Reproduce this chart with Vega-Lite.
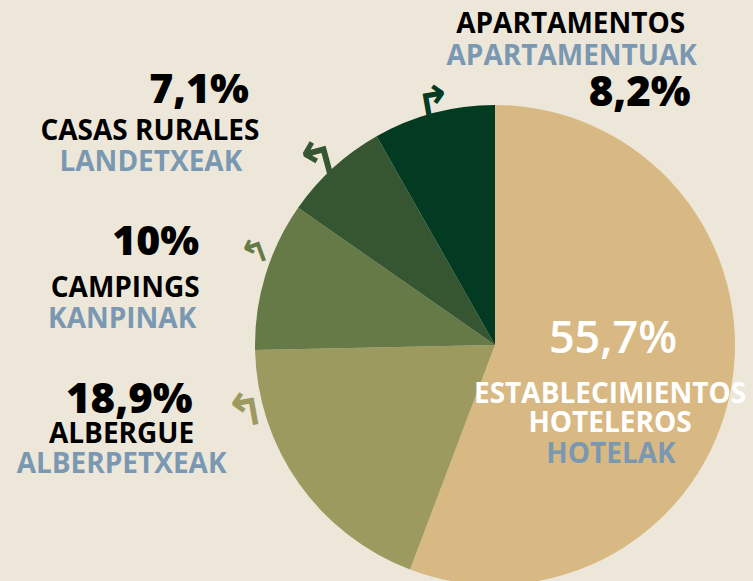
{
  "$schema": "https://vega.github.io/schema/vega-lite/v6.json",
  "width": 480,
  "height": 472,
  "autosize": {"type": "none"},
  "padding": {"left": 255, "top": 109, "right": 18, "bottom": 0},
  "background": "#EDE7D9",
  "config": {"view": {"stroke": null}, "text": {"font": "Open Sans"}},
  "data": {
    "values": [
      {"ord": 1, "cat": "hotel", "es": "ESTABLECIMIENTOS HOTELEROS", "eu": "HOTELAK", "value": 55.7, "pct": "55,7%"},
      {"ord": 2, "cat": "albergue", "es": "ALBERGUE", "eu": "ALBERPETXEAK", "value": 18.9, "pct": "18,9%"},
      {"ord": 3, "cat": "camping", "es": "CAMPINGS", "eu": "KANPINAK", "value": 10.0, "pct": "10%"},
      {"ord": 4, "cat": "casas", "es": "CASAS RURALES", "eu": "LANDETXEAK", "value": 7.1, "pct": "7,1%"},
      {"ord": 5, "cat": "apart", "es": "APARTAMENTOS", "eu": "APARTAMENTUAK", "value": 8.2, "pct": "8,2%"}
    ]
  },
  "encoding": {
    "theta": {"field": "value", "type": "quantitative", "stack": true},
    "order": {"field": "ord", "type": "quantitative"},
    "detail": {"field": "cat", "type": "nominal"}
  },
  "layer": [
    {
      "mark": {"type": "arc", "outerRadius": 240},
      "encoding": {
        "color": {
          "field": "cat", "type": "nominal", "legend": null,
          "scale": {"domain": ["hotel", "albergue", "camping", "casas", "apart"],
                    "range": ["#D9B983", "#9C9A5E", "#667A47", "#365632", "#033A22"]}
        }
      }
    },
    {"mark": {"type": "text", "radius": 120, "align": "center", "baseline": "alphabetic", "dx": 0, "dy": -14, "fontSize": 45, "fontWeight": 600, "color": "#FFFFFF"},
     "encoding": {"text": {"condition": {"test": "datum.cat === 'hotel'", "field": "pct"}, "value": ""}}},
    {"mark": {"type": "text", "radius": 120, "align": "center", "baseline": "alphabetic", "dx": -3, "dy": 36, "fontSize": 28, "fontWeight": "bold", "color": "#FFFFFF", "lineBreak": " ", "lineHeight": 29},
     "encoding": {"text": {"condition": {"test": "datum.cat === 'hotel'", "field": "es"}, "value": ""}}},
    {"mark": {"type": "text", "radius": 120, "align": "center", "baseline": "alphabetic", "dx": -2, "dy": 96, "fontSize": 28, "fontWeight": "bold", "color": "#7A98B2"},
     "encoding": {"text": {"condition": {"test": "datum.cat === 'hotel'", "field": "eu"}, "value": ""}}},

    {"mark": {"type": "text", "radius": 260, "align": "center", "baseline": "alphabetic", "dx": 142, "dy": -61, "fontSize": 28, "fontWeight": "bold", "color": "#000000"},
     "encoding": {"text": {"condition": {"test": "datum.cat === 'apart'", "field": "es"}, "value": ""}}},
    {"mark": {"type": "text", "radius": 260, "align": "center", "baseline": "alphabetic", "dx": 143, "dy": -29, "fontSize": 28, "fontWeight": "bold", "color": "#7A98B2"},
     "encoding": {"text": {"condition": {"test": "datum.cat === 'apart'", "field": "eu"}, "value": ""}}},
    {"mark": {"type": "text", "radius": 260, "align": "right", "baseline": "alphabetic", "dx": 262, "dy": 12, "fontSize": 42, "fontWeight": 800, "color": "#000000"},
     "encoding": {"text": {"condition": {"test": "datum.cat === 'apart'", "field": "pct"}, "value": ""}}},

    {"mark": {"type": "text", "radius": 260, "align": "right", "baseline": "alphabetic", "dx": -71, "dy": -50, "fontSize": 41, "fontWeight": 800, "color": "#000000"},
     "encoding": {"text": {"condition": {"test": "datum.cat === 'casas'", "field": "pct"}, "value": ""}}},
    {"mark": {"type": "text", "radius": 260, "align": "center", "baseline": "alphabetic", "dx": -170, "dy": -13, "fontSize": 28, "fontWeight": "bold", "color": "#000000"},
     "encoding": {"text": {"condition": {"test": "datum.cat === 'casas'", "field": "es"}, "value": ""}}},
    {"mark": {"type": "text", "radius": 260, "align": "center", "baseline": "alphabetic", "dx": -169, "dy": 18, "fontSize": 28, "fontWeight": "bold", "color": "#7A98B2"},
     "encoding": {"text": {"condition": {"test": "datum.cat === 'casas'", "field": "eu"}, "value": ""}}},

    {"mark": {"type": "text", "radius": 260, "align": "right", "baseline": "alphabetic", "dx": -47, "dy": -15, "fontSize": 41, "fontWeight": 800, "color": "#000000"},
     "encoding": {"text": {"condition": {"test": "datum.cat === 'camping'", "field": "pct"}, "value": ""}}},
    {"mark": {"type": "text", "radius": 260, "align": "center", "baseline": "alphabetic", "dx": -121, "dy": 27, "fontSize": 28, "fontWeight": "bold", "color": "#000000"},
     "encoding": {"text": {"condition": {"test": "datum.cat === 'camping'", "field": "es"}, "value": ""}}},
    {"mark": {"type": "text", "radius": 260, "align": "center", "baseline": "alphabetic", "dx": -124, "dy": 58, "fontSize": 28, "fontWeight": "bold", "color": "#7A98B2"},
     "encoding": {"text": {"condition": {"test": "datum.cat === 'camping'", "field": "eu"}, "value": ""}}},

    {"mark": {"type": "text", "radius": 260, "align": "right", "baseline": "alphabetic", "dx": -90, "dy": -82, "fontSize": 42, "fontWeight": 800, "color": "#000000"},
     "encoding": {"text": {"condition": {"test": "datum.cat === 'albergue'", "field": "pct"}, "value": ""}}},
    {"mark": {"type": "text", "radius": 260, "align": "center", "baseline": "alphabetic", "dx": -161, "dy": -52, "fontSize": 28, "fontWeight": "bold", "color": "#000000"},
     "encoding": {"text": {"condition": {"test": "datum.cat === 'albergue'", "field": "es"}, "value": ""}}},
    {"mark": {"type": "text", "radius": 260, "align": "center", "baseline": "alphabetic", "dx": -161, "dy": -22, "fontSize": 28, "fontWeight": "bold", "color": "#7A98B2"},
     "encoding": {"text": {"condition": {"test": "datum.cat === 'albergue'", "field": "eu"}, "value": ""}}},

    {"mark": {"type": "text", "radius": 260, "align": "center", "baseline": "middle", "dx": 4, "dy": 12, "fontSize": 44, "fontWeight": "bold", "font": "DejaVu Sans", "color": "#033A22", "text": "↱", "angle": -10},
     "encoding": {"opacity": {"condition": {"test": "datum.cat === 'apart'", "value": 1}, "value": 0}}},
    {"mark": {"type": "text", "radius": 260, "align": "center", "baseline": "middle", "dx": -4, "dy": 9, "fontSize": 50, "fontWeight": "bold", "font": "DejaVu Sans", "color": "#365632", "text": "↰", "angle": -15},
     "encoding": {"opacity": {"condition": {"test": "datum.cat === 'casas'", "value": 1}, "value": 0}}},
    {"mark": {"type": "text", "radius": 260, "align": "center", "baseline": "middle", "dx": 14, "dy": -12, "fontSize": 34, "fontWeight": "bold", "font": "DejaVu Sans", "color": "#667A47", "text": "↰", "angle": -20},
     "encoding": {"opacity": {"condition": {"test": "datum.cat === 'camping'", "value": 1}, "value": 0}}},
    {"mark": {"type": "text", "radius": 260, "align": "center", "baseline": "middle", "dx": -22, "dy": -88, "fontSize": 46, "fontWeight": "bold", "font": "DejaVu Sans", "color": "#9C9A5E", "text": "↰", "angle": -10},
     "encoding": {"opacity": {"condition": {"test": "datum.cat === 'albergue'", "value": 1}, "value": 0}}}
  ]
}
